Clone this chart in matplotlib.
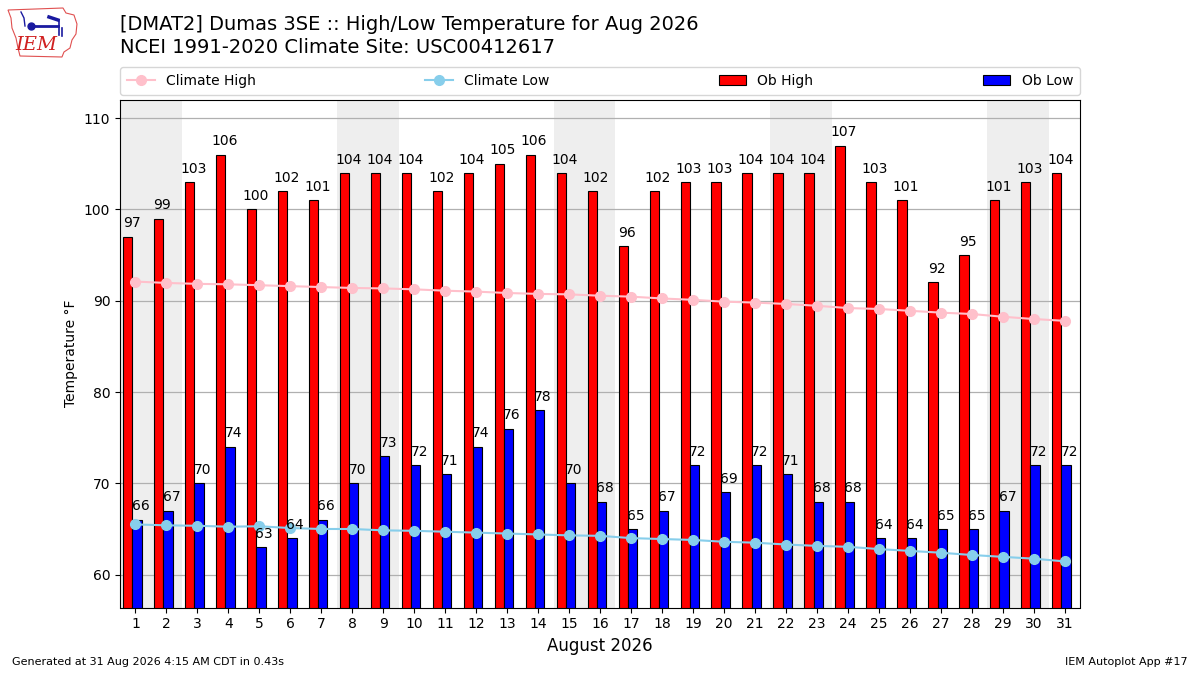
import numpy as np
import matplotlib
matplotlib.use("Agg")
import matplotlib.pyplot as plt
from matplotlib.patches import Polygon

days = np.arange(1, 32)
ob_high = [97, 99, 103, 106, 100, 102, 101, 104, 104, 104, 102, 104, 105, 106, 104, 102,
           96, 102, 103, 103, 104, 104, 104, 107, 103, 101, 92, 95, 101, 103, 104]
ob_low = [66, 67, 70, 74, 63, 64, 66, 70, 73, 72, 71, 74, 76, 78, 70, 68,
          65, 67, 72, 69, 72, 71, 68, 68, 64, 64, 65, 65, 67, 72, 72]
clim_high = [92.1, 91.95, 91.85, 91.8, 91.7, 91.6, 91.5, 91.4, 91.35, 91.25, 91.1, 91.0,
             90.85, 90.75, 90.7, 90.55, 90.45, 90.25, 90.1, 89.9, 89.8, 89.65, 89.45,
             89.2, 89.1, 88.9, 88.7, 88.55, 88.25, 88.0, 87.8]
clim_low = [65.5, 65.4, 65.35, 65.25, 65.3, 65.1, 65.0, 65.0, 64.85, 64.8, 64.7, 64.6,
            64.5, 64.4, 64.3, 64.25, 64.0, 63.9, 63.8, 63.6, 63.5, 63.3, 63.15, 63.05,
            62.8, 62.6, 62.4, 62.15, 61.95, 61.75, 61.45]
weekend_days = [1, 2, 8, 9, 15, 16, 22, 23, 29, 30]

fig = plt.figure(figsize=(12, 6.75), dpi=100)
ax = fig.add_axes([0.1, 0.1, 0.8, 0.752])

for d in weekend_days:
    ax.axvspan(d - 0.5, d + 0.5, color="#EEEEEE", zorder=0, lw=0)

ax.plot(days, clim_high, color="pink", marker="o", ms=7, lw=1.5, label="Climate High", zorder=3)
ax.plot(days, clim_low, color="skyblue", marker="o", ms=7, lw=1.5, label="Climate Low", zorder=3)

ax.bar(days - 0.4, ob_high, width=0.3, align="edge", color="red", edgecolor="black",
       lw=0.8, label="Ob High", zorder=2)
ax.bar(days - 0.1, ob_low, width=0.3, align="edge", color="blue", edgecolor="black",
       lw=0.8, label="Ob Low", zorder=2)

for d, h, l in zip(days, ob_high, ob_low):
    ax.text(d - 0.13, h + 0.7, f"{h}", ha="center", va="bottom", fontsize=10, zorder=4)
    ax.text(d + 0.16, l + 0.7, f"{l}", ha="center", va="bottom", fontsize=10, zorder=4)

ax.set_xlim(0.5, 31.5)
ax.set_ylim(56.4, 112)
ax.set_xticks(days)
ax.set_yticks([60, 70, 80, 90, 100, 110])
ax.yaxis.grid(True, color="#b0b0b0", lw=0.9)
ax.set_axisbelow(True)
ax.set_ylabel("Temperature °F")
ax.set_xlabel("August 2026", fontsize=12)

ax.legend(loc="lower left", bbox_to_anchor=(0, 1.01, 1, 0.05), ncol=4, mode="expand",
          borderaxespad=0, fontsize=10, borderpad=0.5)

fig.text(0.1, 0.963, "[DMAT2] Dumas 3SE :: High/Low Temperature for Aug 2026",
         fontsize=14, va="center")
fig.text(0.1, 0.930, "NCEI 1991-2020 Climate Site: USC00412617", fontsize=14, va="center")

fig.text(0.01, 0.015, "Generated at 31 Aug 2026 4:15 AM CDT in 0.43s", fontsize=8)
fig.text(0.99, 0.015, "IEM Autoplot App #17", fontsize=8, ha="right")

# rough IEM logo
lax = fig.add_axes([0.0, 0.9, 0.0833, 0.1])
lax.set_xlim(0, 100)
lax.set_ylim(67.5, 0)
lax.axis("off")
outline = [(8, 10), (63, 8), (66, 13), (74, 15), (77, 24), (76, 34), (72, 40),
           (70, 48), (64, 52), (62, 57), (20, 56), (18, 48), (16, 38), (12, 28),
           (11, 18)]
lax.add_patch(Polygon(outline, closed=True, fill=False, ec="#e05050", lw=0.8))
lax.plot([30, 58], [26, 26], color="#1a1aa0", lw=2)
lax.plot([31], [26], "o", color="#1a1aa0", ms=5)
lax.plot([49, 58], [17, 20], color="#1a1aa0", lw=2.5)
lax.plot([59, 59], [20, 35], color="#1a1aa0", lw=1.2)
lax.plot([62, 62], [28, 36], color="#1a1aa0", lw=1.2)
lax.plot([25, 24, 21], [26, 18, 12], color="#1a1aa0", lw=1)
lax.text(36, 45, "IEM", color="#d02020", fontsize=14, family="DejaVu Serif",
         style="italic", ha="center", va="center")

fig.savefig("out.png", dpi=100)
